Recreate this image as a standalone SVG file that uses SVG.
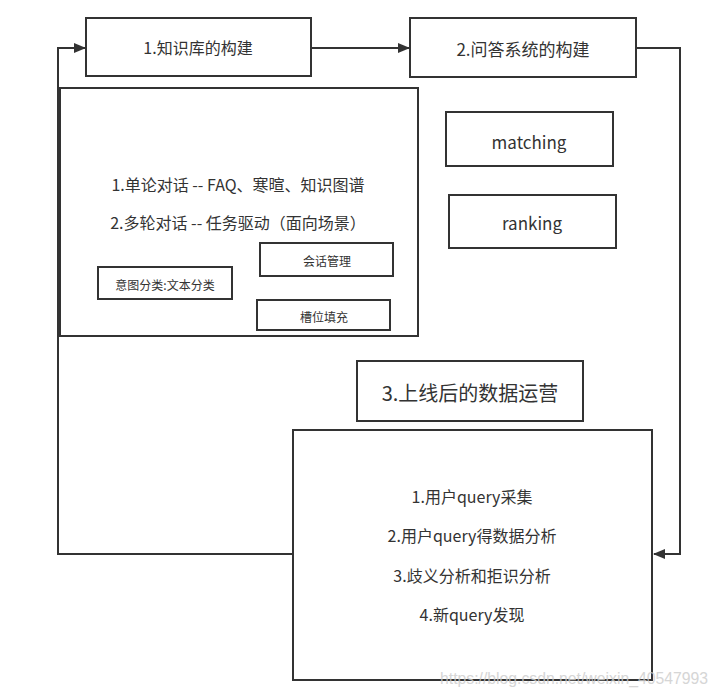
<svg xmlns="http://www.w3.org/2000/svg" width="719" height="694" viewBox="0 0 719 694">
<style>
.box{fill:#fff;stroke:#333;stroke-width:2}
.t{font-family:"Noto Sans CJK SC","Noto Sans",sans-serif;fill:#333;text-anchor:middle;dominant-baseline:central}
.conn{fill:none;stroke:#333;stroke-width:2}
.wm{font-family:"Liberation Sans",Arial,sans-serif;fill:#ccc;font-size:17px;opacity:0.8}
</style>
<defs>
<marker id="ah" markerWidth="12" markerHeight="10" refX="11" refY="5" orient="auto" markerUnits="userSpaceOnUse">
<path d="M0,0 L12,5 L0,10 Z" fill="#333"/>
</marker>
</defs>
<rect width="719" height="694" fill="#fff"/>
<g id="connectors">
<path class="conn" d="M311,48 L409,48" marker-end="url(#ah)"/>
<path class="conn" d="M636,48 L680,48 L680,554 L654,554" marker-end="url(#ah)"/>
<path class="conn" d="M293,554 L58,554 L58,48 L85,48" marker-end="url(#ah)"/>
</g>
<g id="n1"><rect class="box" x="86" y="18" width="225" height="58"/><text class="t" x="198" y="47" font-size="16">1.知识库的构建</text></g>
<g id="n2"><rect class="box" x="410" y="18" width="226" height="59"/><text class="t" x="523" y="48" font-size="17">2.问答系统的构建</text></g>
<g id="dialog"><rect class="box" x="60" y="88" width="358" height="248"/>
<text class="t" x="238" y="184" font-size="16">1.单论对话 -- FAQ、寒暄、知识图谱</text>
<text class="t" x="238" y="222" font-size="16">2.多轮对话 -- 任务驱动（面向场景）</text></g>
<g id="session"><rect class="box" x="260" y="243" width="133" height="33"/><text class="t" x="327" y="260" font-size="12">会话管理</text></g>
<g id="intent"><rect class="box" x="98" y="267" width="134" height="32"/><text class="t" x="165" y="284" font-size="12">意图分类:文本分类</text></g>
<g id="slot"><rect class="box" x="257" y="300" width="133" height="30"/><text class="t" x="324" y="316" font-size="12">槽位填充</text></g>
<g id="matching"><rect class="box" x="446" y="112" width="167" height="54"/><text class="t" x="529" y="141" font-size="17">matching</text></g>
<g id="ranking"><rect class="box" x="449" y="195" width="167" height="53"/><text class="t" x="532" y="222" font-size="17">ranking</text></g>
<g id="n3"><rect class="box" x="357" y="361" width="226" height="60"/><text class="t" x="470" y="392" font-size="20">3.上线后的数据运营</text></g>
<g id="ops"><rect class="box" x="293" y="430" width="359" height="250"/>
<text class="t" x="472" y="496" font-size="16">1.用户query采集</text>
<text class="t" x="472" y="535" font-size="16">2.用户query得数据分析</text>
<text class="t" x="472" y="575" font-size="16">3.歧义分析和拒识分析</text>
<text class="t" x="472" y="614" font-size="16">4.新query发现</text></g>
<text class="wm" x="440" y="684" textLength="268" lengthAdjust="spacingAndGlyphs">https://blog.csdn.net/weixin_40547993</text>
</svg>
